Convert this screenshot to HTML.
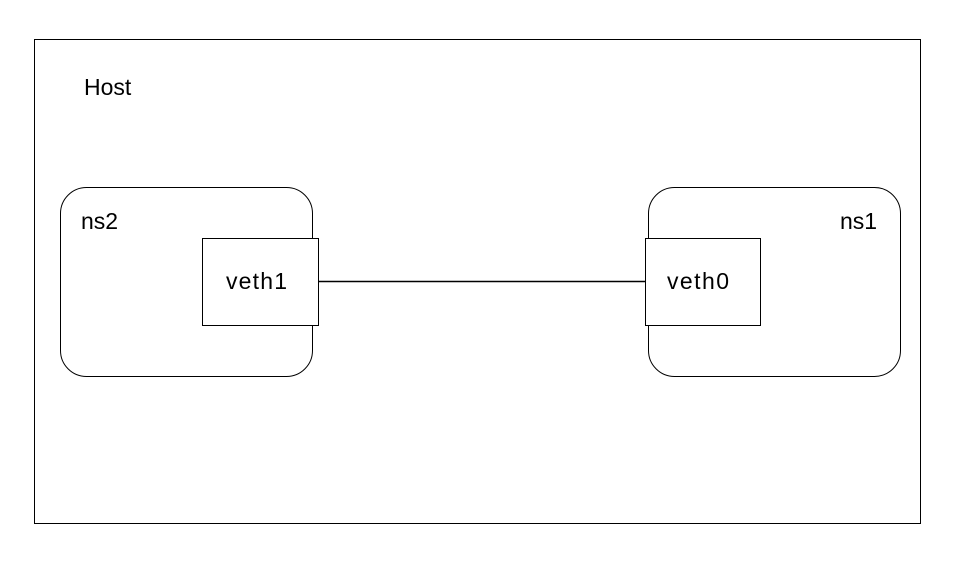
<!DOCTYPE html>
<html><head><style>body{margin:0;background:#fff}</style></head><body>
<svg width="956" height="576" xmlns="http://www.w3.org/2000/svg" font-family="Liberation Sans, sans-serif" font-size="23" fill="none" stroke="#000">
<rect x="34.5" y="39.5" width="886" height="484" stroke-width="1"/>
<text x="84" y="95" fill="#000" stroke="none">Host</text>
<rect x="60.5" y="187.5" width="252" height="189" rx="26" stroke-width="1"/>
<rect x="648.5" y="187.5" width="252" height="189" rx="26" stroke-width="1"/>
<text x="81" y="229" fill="#000" stroke="none">ns2</text>
<text x="840" y="229" fill="#000" stroke="none">ns1</text>
<line x1="318" y1="281.5" x2="645" y2="281.5" stroke-width="1.5"/>
<rect x="202.5" y="238.5" width="116" height="87" fill="#fff" stroke-width="1"/>
<rect x="645.5" y="238.5" width="115" height="87" fill="#fff" stroke-width="1"/>
<text x="226" y="289" fill="#000" stroke="none" textLength="61">veth1</text>
<text x="667" y="289" fill="#000" stroke="none" textLength="62">veth0</text>
</svg>
</body></html>
